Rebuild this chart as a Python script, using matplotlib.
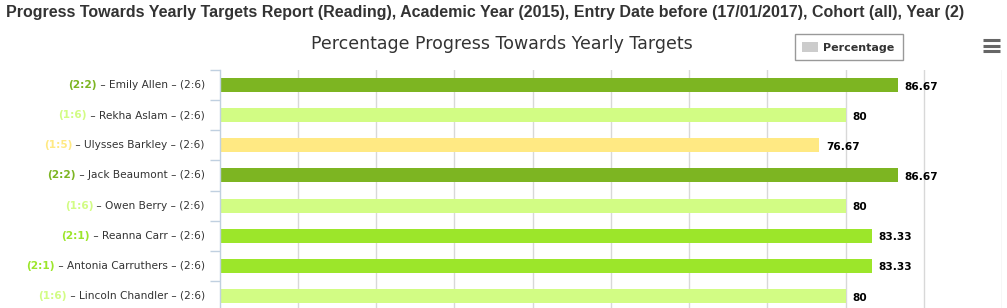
import matplotlib.pyplot as plt
from matplotlib.patches import Patch
from matplotlib.lines import Line2D

students = ['Emily Allen', 'Rekha Aslam', 'Ulysses Barkley', 'Jack Beaumont',
            'Owen Berry', 'Reanna Carr', 'Antonia Carruthers', 'Lincoln Chandler']
current_level = ['2:2', '1:6', '1:5', '2:2', '1:6', '2:1', '2:1', '1:6']
target_level = ['2:6', '2:6', '2:6', '2:6', '2:6', '2:6', '2:6', '2:6']
percentage = [86.67, 80, 76.67, 86.67, 80, 83.33, 83.33, 80]

# colour of each bar depends on the current level
level_colors = {'2:2': '#7db522', '2:1': '#9ce62a', '1:6': '#d2fc84', '1:5': '#ffe983'}

W, H = 1007, 308
fig = plt.figure(figsize=(W / 100, H / 100), dpi=100)

# plot area in pixels: left 220, right 1002, top 70, runs past the bottom edge
ax = fig.add_axes([219.7 / W, 1 - 311 / H, (1002 - 219.7) / W, (311 - 70) / H])

ypos = list(range(len(students)))
bar_colors = [level_colors[c] for c in current_level]
ax.barh(ypos, percentage, height=0.465, color=bar_colors, zorder=2)

ax.set_xlim(0, 100)
ax.set_ylim(len(students) - 0.5, -0.5)
ax.set_xticks(range(10, 101, 10))
ax.tick_params(axis='x', length=0, labelbottom=False)
ax.grid(axis='x', color='#d8d8d8', linewidth=1, zorder=0)

ax.set_yticks([i - 0.5 for i in range(len(students) + 1)])
ax.set_yticklabels([])
ax.tick_params(axis='y', length=7.2, width=1, color='#c0d0e0')

for side in ['top', 'right', 'bottom']:
    ax.spines[side].set_visible(False)
ax.spines['left'].set_color('#c0d0e0')
ax.spines['left'].set_linewidth(1)

# category labels: coloured current level, then name and target in grey
for i, (name, cur, tgt) in enumerate(zip(students, current_level, target_level)):
    main = ax.annotate(f' \u2013 {name} \u2013 ({tgt})', xy=(0, i),
                       xycoords=('axes fraction', 'data'),
                       xytext=(-10.8, 0), textcoords='offset points',
                       ha='right', va='center', fontsize=7.6, color='#333333')
    ax.annotate(f'({cur})', xy=(0, 0.5), xycoords=main,
                ha='right', va='center', fontsize=7.6, fontweight='bold',
                color=level_colors[cur])

# value labels at the end of each bar
for i, v in enumerate(percentage):
    ax.annotate(f'{v:g}', xy=(v, i), xytext=(4.7, -1.2), textcoords='offset points',
                ha='left', va='center', fontsize=7.6, fontweight='bold', color='black')

fig.text(6 / W, 1 - 12 / H,
         'Progress Towards Yearly Targets Report (Reading), Academic Year (2015), '
         'Entry Date before (17/01/2017), Cohort (all), Year (2)',
         ha='left', va='center', fontsize=11.5, fontweight='bold',
         family='Liberation Sans', color='#333333')

fig.text(502 / W, 1 - 44 / H, 'Percentage Progress Towards Yearly Targets',
         ha='center', va='center', fontsize=12.5, color='#333333')

fig.legend(handles=[Patch(facecolor='#cccccc', edgecolor='none')], labels=['Percentage'],
           loc='upper right', bbox_to_anchor=(902.5 / W, 1 - 34 / H),
           prop={'weight': 'bold', 'size': 8}, frameon=True, fancybox=False,
           edgecolor='#999999', framealpha=1, handlelength=1.4, handleheight=1.0,
           handletextpad=0.5, borderpad=0.7, borderaxespad=0, labelcolor='#333333')

# menu icon
for yy in [40, 45.5, 51]:
    fig.add_artist(Line2D([983 / W, 1000 / W], [1 - yy / H, 1 - yy / H],
                          color='#666666', linewidth=2.2, solid_capstyle='butt'))

fig.savefig('out.png', dpi=100)
